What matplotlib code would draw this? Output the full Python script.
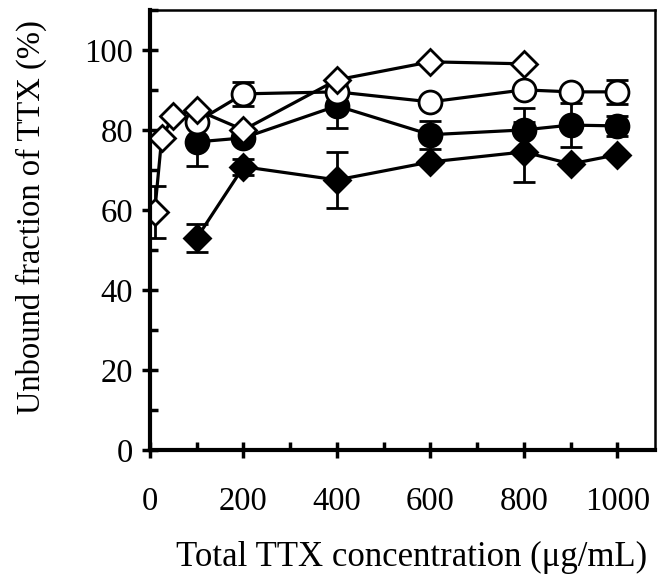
import matplotlib
matplotlib.use("Agg")
import matplotlib.pyplot as plt
from matplotlib.ticker import MultipleLocator

plt.rcParams["font.family"] = ["Liberation Serif", "DejaVu Serif"]

# open diamonds
x_od = [10, 25, 50, 100, 200, 400, 600, 800]
y_od = [59.5, 78, 83.5, 85, 80, 92.5, 97, 96.5]
e_od = [6.5, 0, 0, 0, 0, 0, 0, 0]

# open circles
x_oc = [100, 200, 400, 600, 800, 900, 1000]
y_oc = [82, 89, 89.5, 87, 90, 89.5, 89.5]
e_oc = [0, 3, 0, 0, 0, 0, 3]

# filled circles
x_fc = [100, 200, 400, 600, 800, 900, 1000]
y_fc = [77, 78, 86, 78.8, 80, 81.2, 81]
e_fc = [6, 0, 5.5, 3.5, 5.5, 5.5, 2.5]

# filled diamonds
x_fd = [100, 200, 400, 600, 800, 900, 1000]
y_fd = [53, 70.8, 67.5, 72, 74.5, 71.5, 73.8]
e_fd = [3.5, 2, 7, 0, 7.5, 0, 0]

fig = plt.figure(figsize=(6.65, 5.75), dpi=100)
ax = fig.add_axes([0.2256, 0.217, 0.759, 0.766])

series = [
    (x_fd, y_fd, e_fd, "D", "black", 13),
    (x_fc, y_fc, e_fc, "o", "black", 16.5),
    (x_oc, y_oc, e_oc, "o", "white", 16.5),
    (x_od, y_od, e_od, "D", "white", 13),
]
for xs, ys, es, m, fc, ms in series:
    ax.errorbar(xs, ys, yerr=es, fmt="-", marker=m, color="black",
                mfc=fc, mec="black", mew=2, ms=ms, lw=2.3,
                elinewidth=2, capsize=8, capthick=2)

ax.set_xlim(0, 1080)
ax.set_ylim(0, 110)
ax.xaxis.set_major_locator(MultipleLocator(200))
ax.xaxis.set_minor_locator(MultipleLocator(100))
ax.yaxis.set_minor_locator(MultipleLocator(10))
ax.set_yticks([0, 20, 40, 60, 80, 100])

ax.tick_params(which="major", direction="inout", length=12, width=2.5,
               labelsize=23.5)
ax.tick_params(which="minor", direction="in", length=6, width=2.5)
ax.tick_params(axis="x", which="major", pad=20)
ax.tick_params(axis="y", which="major", pad=6)

ax.spines["left"].set_linewidth(3)
ax.spines["bottom"].set_linewidth(3)
ax.spines["top"].set_linewidth(1.8)
ax.spines["right"].set_linewidth(1.8)

ax.set_xlabel("Total TTX concentration (\u03bcg/mL)", fontsize=25)
ax.set_ylabel("Unbound fraction of TTX (%)", fontsize=23.5)
ax.xaxis.set_label_coords(0.519, -0.205)
ax.yaxis.set_label_coords(-0.205, 0.53)

fig.savefig("out.png", dpi=100)
